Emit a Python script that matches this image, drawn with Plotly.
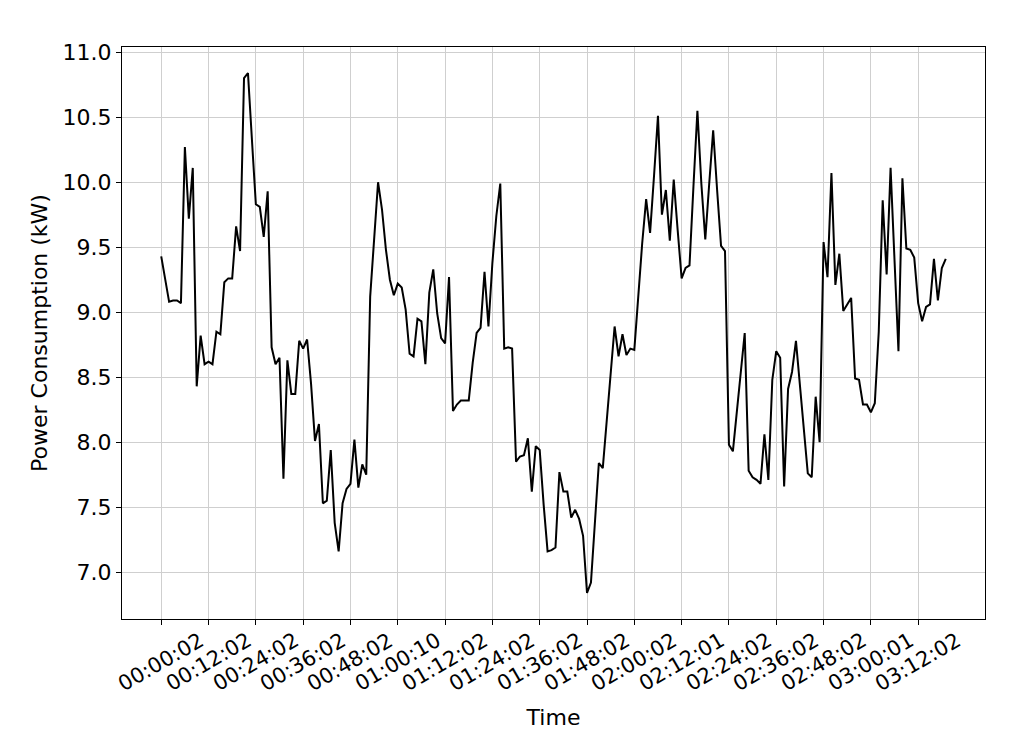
import plotly.graph_objects as go

# Power readings (kW), one per minute
power_kw = [
    9.43, 9.24, 9.08, 9.09, 9.09, 9.07, 10.27, 9.72, 10.11, 8.43,
    8.82, 8.60, 8.62, 8.60, 8.85, 8.83, 9.23, 9.26, 9.26, 9.66,
    9.47, 10.80, 10.84, 10.33, 9.83, 9.81, 9.58, 9.93, 8.73, 8.60,
    8.65, 7.72, 8.63, 8.37, 8.37, 8.78, 8.72, 8.79, 8.45, 8.01,
    8.14, 7.53, 7.55, 7.94, 7.38, 7.16, 7.53, 7.64, 7.68, 8.02,
    7.65, 7.83, 7.75, 9.12, 9.55, 10.00, 9.79, 9.48, 9.25, 9.13,
    9.22, 9.19, 9.02, 8.68, 8.66, 8.95, 8.93, 8.60, 9.15, 9.33,
    8.99, 8.80, 8.76, 9.27, 8.24, 8.29, 8.32, 8.32, 8.32, 8.61,
    8.84, 8.88, 9.31, 8.89, 9.38, 9.74, 9.99, 8.72, 8.73, 8.72,
    7.85, 7.89, 7.90, 8.03, 7.62, 7.97, 7.94, 7.52, 7.16, 7.17,
    7.19, 7.77, 7.62, 7.62, 7.42, 7.48, 7.41, 7.28, 6.84, 6.92,
    7.40, 7.84, 7.80, 8.17, 8.52, 8.89, 8.66, 8.83, 8.67, 8.72,
    8.71, 9.15, 9.53, 9.87, 9.61, 10.05, 10.51, 9.75, 9.94, 9.55,
    10.02, 9.63, 9.26, 9.34, 9.36, 9.97, 10.55, 9.99, 9.56, 9.99,
    10.40, 9.94, 9.51, 9.47, 7.98, 7.93, 8.22, 8.53, 8.84, 7.78,
    7.73, 7.71, 7.68, 8.06, 7.71, 8.48, 8.70, 8.65, 7.66, 8.41,
    8.54, 8.78, 8.45, 8.14, 7.76, 7.73, 8.35, 8.00, 9.54, 9.27,
    10.07, 9.21, 9.45, 9.01, 9.06, 9.11, 8.49, 8.48, 8.29, 8.29,
    8.23, 8.30, 8.85, 9.86, 9.29, 10.11, 9.40, 8.70, 10.03, 9.49,
    9.48, 9.42, 9.07, 8.93, 9.04, 9.06, 9.41, 9.09, 9.34, 9.41,
]

# Tick labels shown on the time axis
tick_labels = [
    "00:00:02", "00:12:02", "00:24:02", "00:36:02", "00:48:02", "01:00:10",
    "01:12:02", "01:24:02", "01:36:02", "01:48:02", "02:00:02", "02:12:01",
    "02:24:02", "02:36:02", "02:48:02", "03:00:01", "03:12:02",
]

# Timestamps of every reading (one per minute, the labelled ones taken from the axis)
timestamps = []
for i in range(len(power_kw)):
    h, m = divmod(i, 60)
    timestamps.append(f"{h:02d}:{m:02d}:02")
for k, lab in enumerate(tick_labels):
    timestamps[k * 12] = lab

y_ticks = [7.0, 7.5, 8.0, 8.5, 9.0, 9.5, 10.0, 10.5, 11.0]

n = len(power_kw)
pad_x = 0.05 * (n - 1)
ymin, ymax = min(power_kw), max(power_kw)
pad_y = 0.05 * (ymax - ymin)

fig = go.Figure()
fig.add_trace(go.Scatter(
    x=timestamps, y=power_kw, mode="lines",
    line=dict(color="black", width=2),
    showlegend=False,
))

font = "DejaVu Sans, sans-serif"
# rotated tick labels, centred under their ticks (matplotlib style)
for lab in tick_labels:
    fig.add_annotation(
        x=lab, xref="x", y=-0.076, yref="paper",
        text=lab, textangle=-30, showarrow=False,
        xanchor="center", yanchor="middle",
        font=dict(size=21, family=font, color="black"),
    )

fig.update_layout(
    width=1014, height=741,
    margin=dict(l=122, r=29, t=47, b=122),
    paper_bgcolor="white", plot_bgcolor="white",
    font=dict(family=font, color="black"),
    xaxis=dict(
        type="category",
        range=[-pad_x, n - 1 + pad_x],
        tickmode="array", tickvals=tick_labels, ticktext=tick_labels,
        showticklabels=False,
        ticks="outside", ticklen=5, tickwidth=1, tickcolor="black",
        showgrid=True, gridcolor="#cfcfcf", gridwidth=1,
        showline=True, linecolor="black", linewidth=1, mirror=True,
        title=dict(text="Time", font=dict(size=22, family=font), standoff=85),
        zeroline=False,
    ),
    yaxis=dict(
        range=[ymin - pad_y, ymax + pad_y],
        tickmode="array", tickvals=y_ticks,
        ticktext=[f"{v:.1f}" for v in y_ticks],
        tickfont=dict(size=22, family=font),
        ticks="outside", ticklen=5, tickwidth=1, tickcolor="black",
        showgrid=True, gridcolor="#cfcfcf", gridwidth=1,
        showline=True, linecolor="black", linewidth=1, mirror=True,
        title=dict(text="Power Consumption (kW)", font=dict(size=22, family=font), standoff=8),
        zeroline=False,
    ),
)

fig.write_html("out.html")
